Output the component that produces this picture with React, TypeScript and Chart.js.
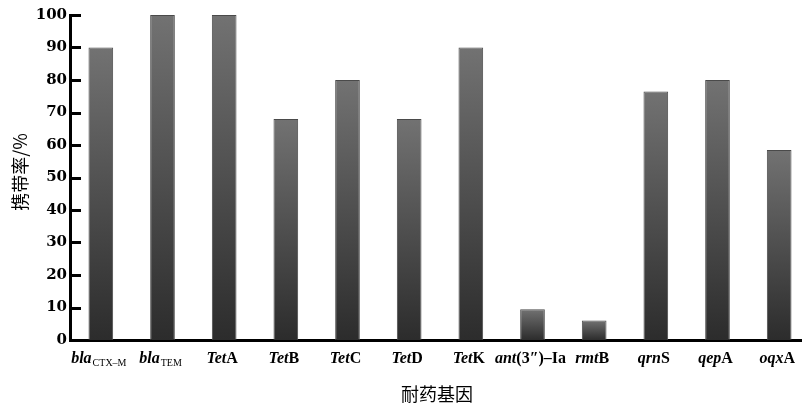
import { useEffect, useRef } from "react";
import { Chart, registerables } from "chart.js";

Chart.register(...registerables);

// Categories (gene names) and carriage rates (%)
const genes = ["blaCTX-M", "blaTEM", "TetA", "TetB", "TetC", "TetD", "TetK", "ant(3″)-Ia", "rmtB", "qrnS", "qepA", "oqxA"];
const rates = [90, 100, 100, 68, 80, 68, 90, 9.5, 6, 76.5, 80, 58.5];
const yTicks = [0, 10, 20, 30, 40, 50, 60, 70, 80, 90, 100];

// Label segments: kind "i" = italic, "r" = roman, "s" = subscript
const labelParts: [string, string][][] = [
  [["i", "bla"], ["s", "CTX–M"]],
  [["i", "bla"], ["s", "TEM"]],
  [["i", "Tet"], ["r", "A"]],
  [["i", "Tet"], ["r", "B"]],
  [["i", "Tet"], ["r", "C"]],
  [["i", "Tet"], ["r", "D"]],
  [["i", "Tet"], ["r", "K"]],
  [["i", "ant"], ["r", "(3″)–Ia"]],
  [["i", "rmt"], ["r", "B"]],
  [["i", "qrn"], ["r", "S"]],
  [["i", "qep"], ["r", "A"]],
  [["i", "oqx"], ["r", "A"]],
];

const xTitle = "耐药基因";
const yTitle = "携带率/%";

const fontFor = (k: string) =>
  k === "i"
    ? 'italic bold 16px "Liberation Serif"'
    : k === "s"
    ? '10px "Liberation Serif"'
    : 'bold 16px "Liberation Serif"';

const decorPlugin = {
  id: "decor",
  afterDraw(chart: any) {
    const c = chart.ctx as CanvasRenderingContext2D;
    const xs = chart.scales.x;
    const ys = chart.scales.y;
    const area = chart.chartArea;
    c.save();
    // inward tick marks on y axis
    c.strokeStyle = "#000";
    c.lineWidth = 3;
    yTicks.forEach((v) => {
      if (v === 0) return;
      const y = Math.round(ys.getPixelForValue(v)) + 0.5;
      c.beginPath();
      c.moveTo(area.left, y);
      c.lineTo(area.left + 11, y);
      c.stroke();
    });
    // x labels with mixed styles
    c.fillStyle = "#000";
    c.textBaseline = "alphabetic";
    c.textAlign = "left";
    labelParts.forEach((parts, i) => {
      let w = 0;
      parts.forEach(([k, t]) => {
        c.font = fontFor(k);
        w += c.measureText(t).width + (k === "s" ? 1 : 0);
      });
      let x = xs.getPixelForValue(i) - w / 2 - 2;
      const base = 363;
      parts.forEach(([k, t]) => {
        c.font = fontFor(k);
        if (k === "s") x += 1;
        c.fillText(t, x, k === "s" ? base + 3 : base);
        x += c.measureText(t).width;
      });
    });
    // axis titles
    c.font = '18px "Noto Sans CJK SC"';
    c.textAlign = "center";
    c.textBaseline = "middle";
    c.fillText(xTitle, 437, 394);
    c.save();
    c.translate(20, 172);
    c.rotate(-Math.PI / 2);
    c.fillText(yTitle, 0, 0);
    c.restore();
    c.restore();
  },
};

export default function App() {
  const ref = useRef<HTMLCanvasElement | null>(null);
  useEffect(() => {
    if (!ref.current) return;
    const chart = new Chart(ref.current, {
      type: "bar",
      data: {
        labels: genes,
        datasets: [
          {
            data: rates,
            barPercentage: 0.8,
            categoryPercentage: 0.5,
            borderWidth: 1,
            borderColor: "#4a4a4a",
            backgroundColor: (ctx: any) => {
              const ch = ctx.chart;
              if (!ch.chartArea) return "#555";
              const v = typeof ctx.raw === "number" ? ctx.raw : 0;
              const top = ch.scales.y.getPixelForValue(v);
              const bottom = ch.scales.y.getPixelForValue(0);
              const g = ch.ctx.createLinearGradient(0, top, 0, bottom);
              g.addColorStop(0, "#727272");
              g.addColorStop(1, "#2c2c2c");
              return g;
            },
          },
        ],
      },
      options: {
        animation: false,
        responsive: false,
        maintainAspectRatio: false,
        layout: { padding: { top: 15, left: 0, right: 0, bottom: 0 } },
        plugins: { legend: { display: false }, tooltip: { enabled: false } },
        scales: {
          x: {
            grid: { display: false, drawTicks: false },
            border: { display: true, color: "#000", width: 3 },
            ticks: { display: false },
            afterFit: (s: any) => {
              s.height = 67;
            },
          },
          y: {
            min: 0,
            max: 100,
            afterBuildTicks: (s: any) => {
              s.ticks = yTicks.map((v) => ({ value: v }));
            },
            grid: { display: false, drawTicks: false },
            border: { display: true, color: "#000", width: 3 },
            ticks: {
              padding: 3,
              color: "#000",
              font: { family: '"DejaVu Serif"', size: 15, weight: "bold" },
            },
            afterFit: (s: any) => {
              s.width = 70;
            },
          },
        },
      },
      plugins: [decorPlugin],
    });
    return () => chart.destroy();
  }, []);
  return (
    <div style={{ position: "fixed", left: 0, top: 0, width: 802, height: 407, overflow: "hidden", background: "#fff" }}>
      <canvas ref={ref} width={810} height={407} style={{ display: "block", width: 810, height: 407 }} />
    </div>
  );
}
